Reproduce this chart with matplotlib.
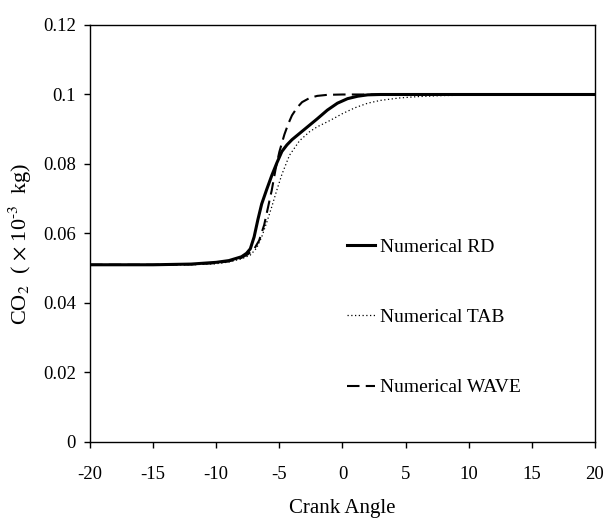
import matplotlib
matplotlib.use('Agg')
import matplotlib.pyplot as plt

plt.rcParams['font.family'] = ['Liberation Serif', 'DejaVu Serif']
plt.rcParams['mathtext.fontset'] = 'stix'

# crank angle vs CO2 mass
rd_x = [-20, -15, -12, -10, -9, -8, -7.6, -7.3, -7.0, -6.7, -6.4, -6.0, -5.6, -5.2,
        -4.8, -4.4, -4.0, -3.4, -2.8, -2.0, -1.2, -0.4, 0.4, 1.2, 2.0, 3.0, 5, 10, 20]
rd_y = [0.051, 0.051, 0.0512, 0.0517, 0.0522, 0.0533, 0.0543, 0.0556, 0.0590, 0.0640,
        0.0685, 0.0727, 0.0767, 0.0803, 0.0836, 0.0855, 0.0870, 0.0888, 0.0906, 0.0930,
        0.0955, 0.0975, 0.0988, 0.0995, 0.0999, 0.1, 0.1, 0.1, 0.1]

tab_x = [-20, -15, -12, -10, -9, -8, -7.3, -6.8, -6.4, -6.0, -5.6, -5.2, -4.8, -4.2,
         -3.4, -2.6, -2.0, -1.0, 0, 1, 2, 3, 4.5, 6, 8, 10, 20]
tab_y = [0.051, 0.051, 0.051, 0.0513, 0.0518, 0.0527, 0.0538, 0.0558, 0.059, 0.0632,
         0.0677, 0.0725, 0.0770, 0.0825, 0.0867, 0.0893, 0.0907, 0.0925, 0.0945, 0.0962,
         0.0975, 0.0983, 0.0990, 0.0994, 0.0997, 0.0998, 0.0999]

wave_x = [-20, -15, -12, -10, -9, -8, -7.5, -7.0, -6.6, -6.2, -5.9, -5.6, -5.3, -5.0,
          -4.6, -4.3, -4.0, -3.6, -3.2, -2.6, -2.0, -1.2, 0, 2, 20]
wave_y = [0.051, 0.051, 0.0511, 0.0515, 0.052, 0.053, 0.054, 0.0555, 0.058, 0.0625,
          0.0675, 0.0725, 0.0785, 0.0835, 0.0885, 0.0915, 0.0940, 0.0962, 0.0978, 0.0990,
          0.0996, 0.0999, 0.1, 0.1, 0.1]

xticks = [-20, -15, -10, -5, 0, 5, 10, 15, 20]
yticks = [0, 0.02, 0.04, 0.06, 0.08, 0.1, 0.12]
ytick_labels = ['0', '0.02', '0.04', '0.06', '0.08', '0.1', '0.12']

fig = plt.figure(figsize=(6.06, 5.23), dpi=100)
ax = fig.add_axes([0.1485, 0.1549, 0.8333, 0.7973])

ax.plot(rd_x, rd_y, color='black', lw=2.2, label='Numerical RD')
ax.plot(tab_x, tab_y, color='black', lw=0.9, linestyle=(0, (1, 2)), label='Numerical TAB')
ax.plot(wave_x, wave_y, color='black', lw=1.5, linestyle=(0, (6, 3)), label='Numerical WAVE')

ax.set_xlim(-20, 20)
ax.set_ylim(0, 0.12)
ax.set_xticks(xticks)
ax.set_xticklabels([str(t) for t in xticks])
ax.set_yticks(yticks)
ax.set_yticklabels(ytick_labels)
ax.tick_params(direction='out', length=4, width=1, labelsize=13.5, pad=6)
ax.tick_params(axis='x', pad=13)
for s in ax.spines.values():
    s.set_linewidth(1)

ax.set_xlabel('Crank Angle', fontsize=15, labelpad=12)
ax.set_ylabel(r'CO$_2$  ( $\times$ 10$^{\text{-3}}$  kg)', fontsize=16)
ax.yaxis.set_label_coords(-0.11, 0.475)

ax.legend(loc='upper left', bbox_to_anchor=(0.4743, 0.530), frameon=False, fontsize=14,
          handlelength=1.44, handletextpad=0.25, labelspacing=2.7)

fig.savefig('out.png', dpi=100)
